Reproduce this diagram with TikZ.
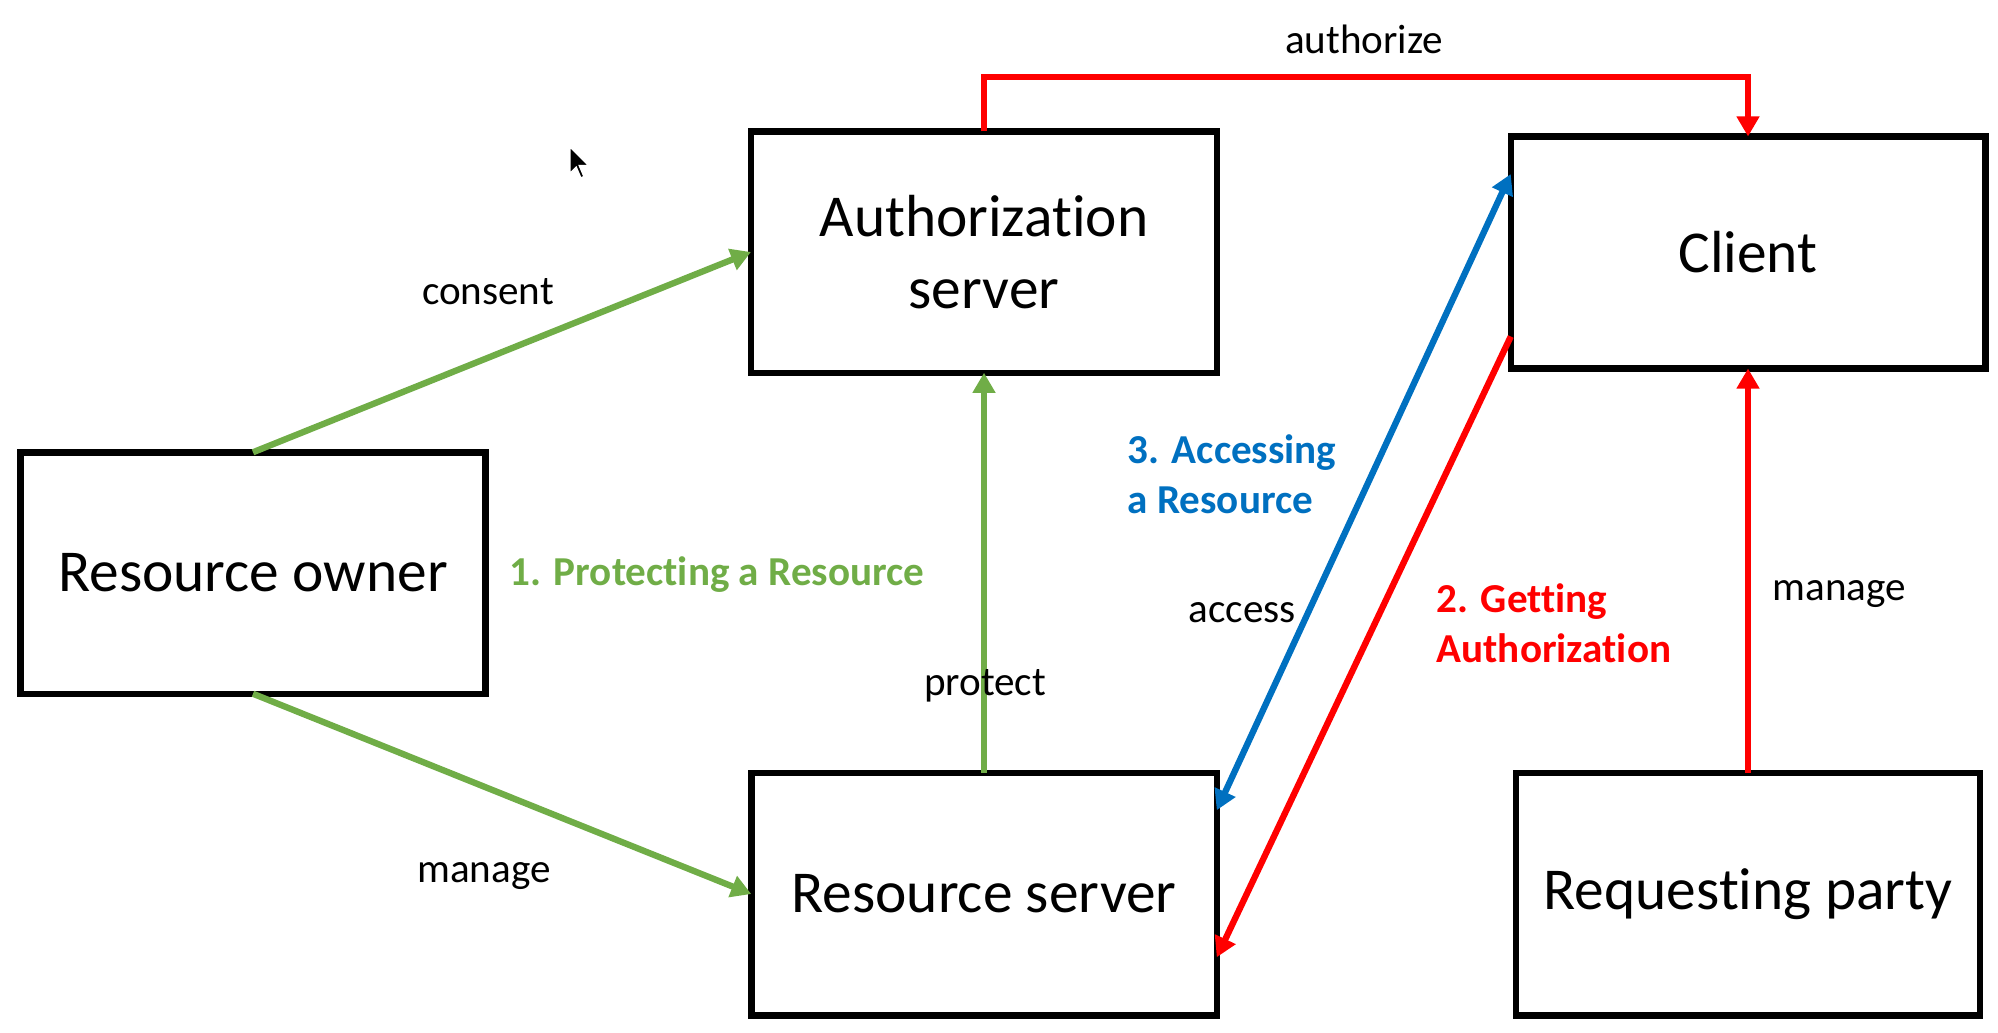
\documentclass[tikz,border=0pt]{standalone}
\usepackage{fontspec}
\setmainfont{Carlito}[Ligatures={NoCommon}]
\usetikzlibrary{arrows.meta}
\definecolor{umagreen}{RGB}{112,173,71}
\definecolor{umablue}{RGB}{0,112,192}
\definecolor{umared}{RGB}{255,0,0}
\tikzset{
    umatip/.tip={Triangle[length=5.7pt,width=6.2pt]},
    party/.style={draw, line width=1.85pt, inner sep=0pt, outer sep=0pt, align=center,
        font=\fontsize{16.9}{20.6}\selectfont},
    flow/.style={line width=1.8pt, -umatip},
    lbl/.style={inner sep=0pt, font=\fontsize{11.7}{14.2}\selectfont},
    steplbl/.style={inner sep=0pt, align=left, font=\fontsize{11.7}{14.2}\selectfont\bfseries}
}

\begin{document}
\begin{tikzpicture}
    \useasboundingbox (0,0) rectangle (19.98,10.32);
    % Definitions
    \coordinate (ResOwner)   at (2.53,4.59);
    \coordinate (AuthServer) at (9.84,7.80);
    \coordinate (Client)     at (17.48,7.795);
    \coordinate (ResServer)  at (9.84,1.38);
    \coordinate (ReqParty)   at (17.48,1.38);
    % Nodes
    \node(RO) at (ResOwner)   [party, minimum width=4.65cm, minimum height=2.415cm] {Resource owner};
    \node(AS) at (AuthServer) [party, minimum width=4.66cm, minimum height=2.415cm] {Authorization\\server};
    \node(C)  at (Client)     [party, minimum width=4.745cm, minimum height=2.32cm] {Client};
    \node(RS) at (ResServer)  [party, minimum width=4.655cm, minimum height=2.425cm] {Resource server};
    \node(RP) at (ReqParty)   [party, minimum width=4.64cm, minimum height=2.425cm] {Requesting party};
    % 1. Protecting a Resource
    \draw[flow,umagreen] (RO.north) -- (AS.west);
    \draw[flow,umagreen] (RO.south) -- (RS.west);
    \draw[flow,umagreen] (RS.north) -- (AS.south);
    % 2. Getting Authorization
    \draw[flow,umared] (AS.north) -- ++(0,0.54) -| (C.north);
    \draw[flow,umared] (RP.north) -- (C.south);
    \draw[flow,umared] ([yshift=0.32cm]C.south west) -- ([yshift=0.58cm]RS.south east);
    % 3. Accessing a Resource
    \draw[flow,umablue,umatip-umatip] ([yshift=-0.375cm]RS.north east) -- ([yshift=-0.375cm]C.north west);
    % Labels
    \node(authorize) [lbl, anchor=base]      at (13.64,9.79) {authorize};
    \node(consent)   [lbl, anchor=base]      at (4.88,7.28)  {consent};
    \node(manageRS)  [lbl, anchor=base]      at (4.84,1.50)  {manage};
    \node(protect)   [lbl, anchor=base]      at (9.85,3.37)  {protect};
    \node(access)    [lbl, anchor=base west] at (11.88,4.10) {access};
    \node(manageC)   [lbl, anchor=base west] at (17.72,4.32) {manage};
    \node(stepone)   [steplbl, text=umagreen, anchor=base west] at (5.09,4.47)  {1. Protecting a Resource};
    \node(steptwo)   [steplbl, text=umared,   anchor=base west] at (14.36,3.70) {2. Getting\\Authorization};
    \node(stepthree) [steplbl, text=umablue,  anchor=base west] at (11.27,5.19) {3. Accessing\\a Resource};
    % Cursor
    \filldraw[fill=black, draw=white, line width=0.4pt, shift={(5.70cm,8.85cm)}, x=0.0155cm, y=0.0155cm]
        (0,0) -- (0,-17) -- (4,-13) -- (7,-20) -- (9,-19) -- (6,-12) -- (12,-12) -- cycle;
\end{tikzpicture}
\end{document}
